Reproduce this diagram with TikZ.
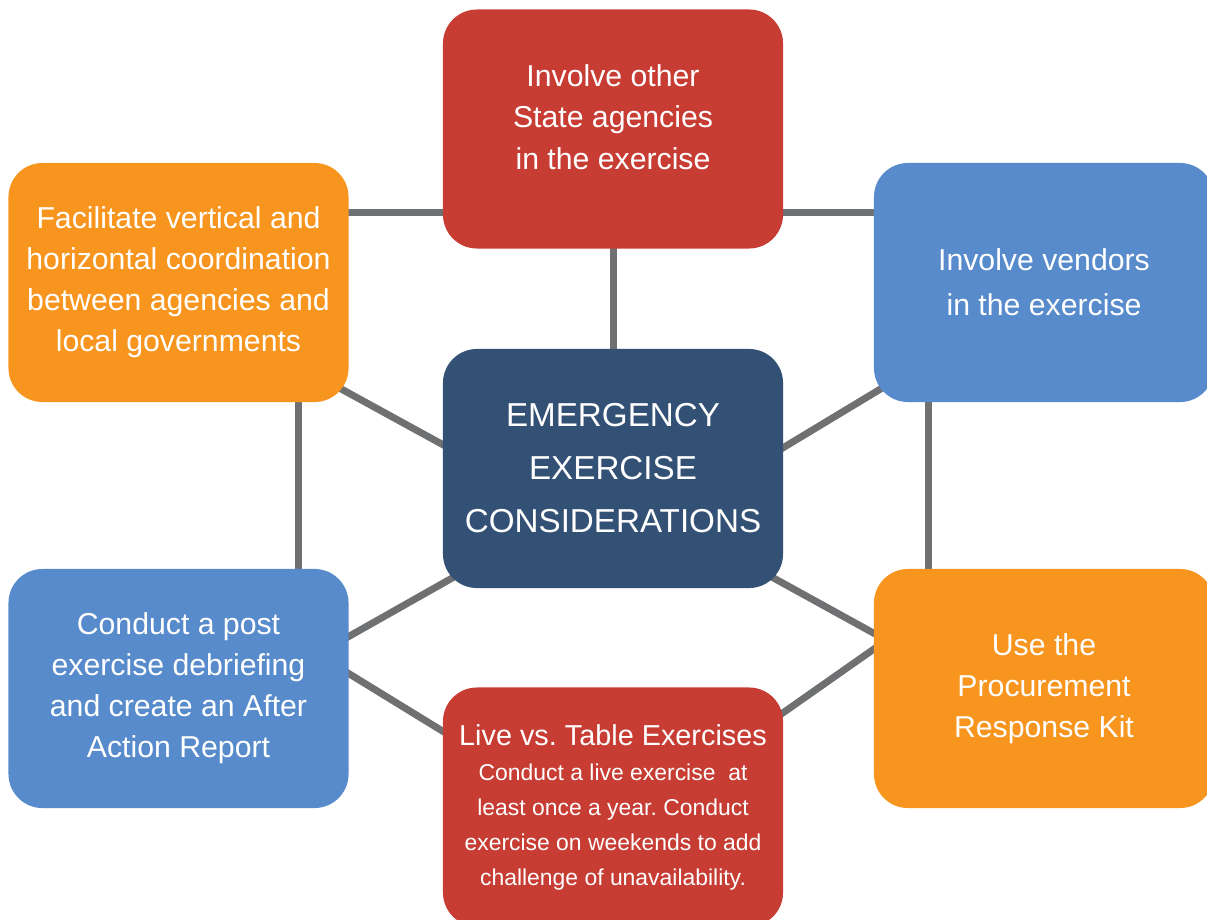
\documentclass[tikz,border=0pt]{standalone}
\usepackage{fontspec}
\setmainfont{Liberation Sans}
\usetikzlibrary{backgrounds}
\frenchspacing

\begin{document}
\begin{tikzpicture}[x=0.025cm, y=-0.025cm,
    box/.style={rounded corners=0.85cm, minimum width=8.5cm, minimum height=5.975cm,
        inner sep=0pt, align=center, text=white, font=\fontsize{21.5}{29.2}\selectfont},
    link/.style={draw=tab_gray, line width=0.175cm, shorten <=-1cm, shorten >=-1cm}]
    \definecolor{tab_red}{HTML}{C73C33}
    \definecolor{tab_orange}{HTML}{F7951F}
    \definecolor{tab_blue}{HTML}{588BCB}
    \definecolor{tab_navy}{HTML}{335075}
    \definecolor{tab_gray}{HTML}{6F7072}
    %\draw[help lines, step=100] (0,0) grid (1207,919);

    \useasboundingbox (0,0) rectangle (1207,919);
    \clip (0,0) rectangle (1207,919);

    \node[box, fill=tab_red, text depth=0.6cm] (agencies) at (613,129) {
        Involve other\\State agencies\\in the exercise
    };
    \node[box, fill=tab_orange] (coord) at (178.5,282.5) {
        Facilitate vertical and\\horizontal coordination\\between agencies and\\local governments
    };
    \node[box, fill=tab_blue] (vendors) at (1044,282.5) {
        Involve vendors\\[3pt]in the exercise
    };
    \node[box, fill=tab_navy, font=\fontsize{23.6}{37.7}\selectfont] (center) at (613,468.5) {
        EMERGENCY\\EXERCISE\\CONSIDERATIONS
    };
    \node[box, fill=tab_blue] (debrief) at (178.5,688.5) {
        Conduct a post\\exercise debriefing\\and create an After\\Action Report
    };
    \node[box, fill=tab_orange] (kit) at (1044,688.5) {
        Use the\\Procurement\\Response Kit
    };
    \node[box, fill=tab_red, font=\fontsize{16.3}{24.9}\selectfont] (live) at (613,807) {
        {\fontsize{20.5}{24.9}\selectfont Live vs. Table Exercises}\\[0pt]
        Conduct a live exercise\ \ at\\least once a year. Conduct\\
        exercise on weekends to add\\challenge of unavailability.
    };

    % connectors behind the boxes
    \begin{pgfonlayer}{background}
        \draw[link] (agencies.206) -- (agencies.206 -| coord.east);
        \draw[link] (agencies.-26) -- (agencies.-26 -| vendors.west);
        \draw[link] (agencies.south) -- (center.north);
        \draw[link] (coord.-33.2) -- (center.172.8);
        \draw[link] (vendors.213.4) -- (center.7.2);
        \draw[link] (coord.-45.2) -- (coord.-45.2 |- debrief.north);
        \draw[link] (vendors.226.1) -- (vendors.226.1 |- kit.north);
        \draw[link] (center.214.1) -- (debrief.17.3);
        \draw[link] (center.-34.1) -- (kit.162.4);
        \draw[link] (debrief.5.4) -- (live.156.6);
        \draw[link] (kit.167.4) -- (live.29.6);
    \end{pgfonlayer}
\end{tikzpicture}
\end{document}
